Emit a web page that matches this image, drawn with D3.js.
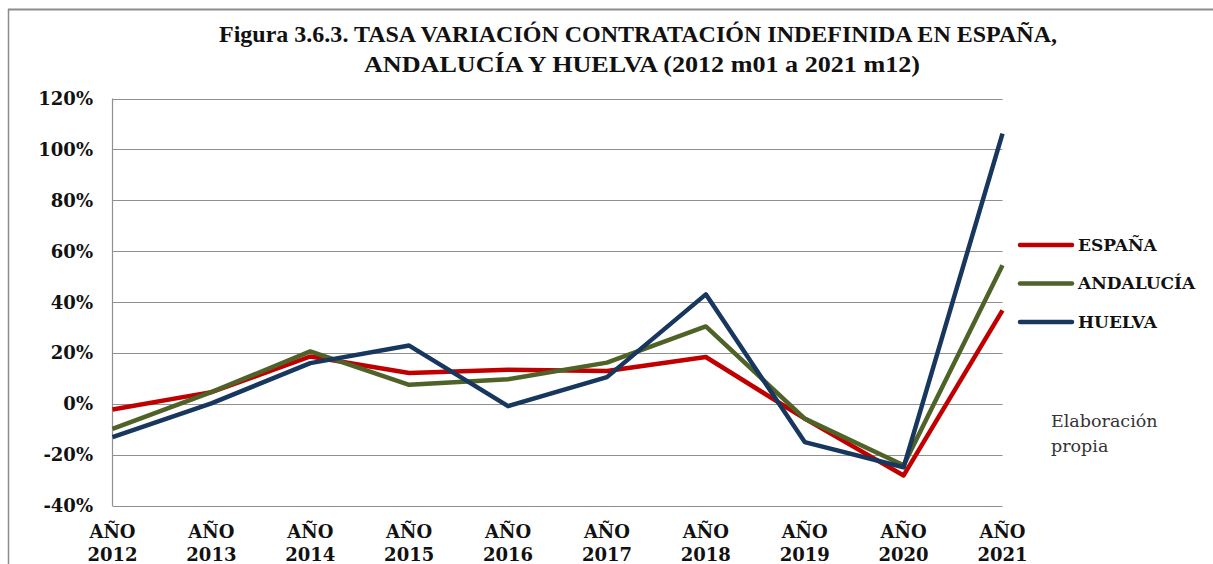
<!DOCTYPE html>
<html>
<head>
<meta charset="utf-8">
<script src="https://cdn.jsdelivr.net/npm/d3@7"></script>
<style>
  body { margin: 0; background: #fff; }
  svg { display: block; }
</style>
</head>
<body>
<div id="chart"></div>
<script>
const w = 1213, h = 564,
  m = {top: 98.5, right: 210.5, bottom: 58, left: 112.5};

// data
const years = ["2012", "2013", "2014", "2015", "2016", "2017", "2018", "2019", "2020", "2021"];
const espana    = [-2.1, 4.7, 18.7, 12.2, 13.5, 13.0, 18.5, -5.7, -28.0, 36.8];
const andalucia = [-9.7, 4.7, 20.7,  7.6,  9.8, 16.3, 30.5, -5.7, -24.0, 54.5];
const huelva    = [-13.0, 0.3, 16.1, 23.0, -0.8, 10.6, 43.1, -14.9, -24.8, 106.2];
const yTicks = [-40, -20, 0, 20, 40, 60, 80, 100, 120];

const series = [
  {name: "ESPAÑA", values: espana, color: "#c00000"},
  {name: "ANDALUCÍA", values: andalucia, color: "#4f6228"},
  {name: "HUELVA", values: huelva, color: "#17375e"}
];

const svg = d3.select("#chart").append("svg")
  .attr("width", w).attr("height", h);

// outer frame
svg.append("line").attr("x1", 8).attr("x2", w).attr("y1", 9.5).attr("y2", 9.5)
  .attr("stroke", "#8c8c8c").attr("stroke-width", 2);
svg.append("line").attr("x1", 8.5).attr("x2", 8.5).attr("y1", 9).attr("y2", h)
  .attr("stroke", "#8c8c8c").attr("stroke-width", 1.5);

// title
const title = svg.append("text")
  .attr("text-anchor", "middle")
  .style("font-family", "'Liberation Serif', serif")
  .style("font-weight", "bold")
  .style("font-size", "24px")
  .attr("fill", "#111");
title.append("tspan").attr("x", 638).attr("y", 42)
  .attr("textLength", 838).attr("lengthAdjust", "spacingAndGlyphs")
  .text("Figura 3.6.3. TASA VARIACIÓN CONTRATACIÓN INDEFINIDA EN ESPAÑA,");
title.append("tspan").attr("x", 642).attr("y", 72)
  .attr("textLength", 556).attr("lengthAdjust", "spacingAndGlyphs")
  .text("ANDALUCÍA Y HUELVA (2012 m01 a 2021 m12)");

const x = d3.scalePoint(years, [m.left, w - m.right]);
const y = d3.scaleLinear([-40, 120], [h - m.bottom, m.top]);

// gridlines
svg.append("g")
  .selectAll("line")
  .data(yTicks)
  .join("line")
  .attr("x1", m.left).attr("x2", w - m.right)
  .attr("y1", d => Math.round(y(d)) + 0.5).attr("y2", d => Math.round(y(d)) + 0.5)
  .attr("stroke", "#8f8f8f").attr("stroke-width", 1.2);

svg.append("line")
  .attr("x1", m.left).attr("x2", m.left)
  .attr("y1", y(120)).attr("y2", y(-40))
  .attr("stroke", "#8f8f8f").attr("stroke-width", 1.2);

// y labels
svg.append("g")
  .selectAll("text")
  .data(yTicks)
  .join("text")
  .attr("x", 93).attr("y", d => y(d))
  .attr("dy", "0.35em")
  .attr("text-anchor", "end")
  .style("font-family", "'DejaVu Serif', serif")
  .style("font-weight", "bold")
  .style("font-size", "18px")
  .attr("fill", "#111")
  .text(d => d + "%");

// x labels
const xl = svg.append("g")
  .selectAll("text")
  .data(years)
  .join("text")
  .attr("text-anchor", "middle")
  .style("font-family", "'DejaVu Serif', serif")
  .style("font-weight", "bold")
  .style("font-size", "18px")
  .attr("fill", "#111");
xl.append("tspan").attr("x", d => x(d)).attr("y", 538).text("AÑO");
xl.append("tspan").attr("x", d => x(d)).attr("y", 561).text(d => d);

// lines
const line = d3.line()
  .x((d, i) => x(years[i]))
  .y(d => y(d));

svg.append("g")
  .selectAll("path")
  .data(series)
  .join("path")
  .attr("d", d => line(d.values))
  .attr("fill", "none")
  .attr("stroke", d => d.color)
  .attr("stroke-width", 4.5)
  .attr("stroke-linejoin", "round");

// legend
const lg = svg.append("g")
  .selectAll("g")
  .data(series)
  .join("g")
  .attr("transform", (d, i) => `translate(1020,${245 + i * 38.5})`);
lg.append("line")
  .attr("x1", 0).attr("x2", 52)
  .attr("stroke", d => d.color).attr("stroke-width", 4.5)
  .attr("stroke-linecap", "round");
lg.append("text")
  .attr("x", 58).attr("dy", "0.35em")
  .style("font-family", "'DejaVu Serif', serif")
  .style("font-weight", "bold")
  .style("font-size", "17px")
  .attr("fill", "#111")
  .text(d => d.name);

// note
const note = svg.append("text")
  .style("font-family", "'DejaVu Serif', serif")
  .style("font-size", "17.5px")
  .attr("fill", "#333");
note.append("tspan").attr("x", 1051).attr("y", 427).text("Elaboración");
note.append("tspan").attr("x", 1051).attr("y", 452).text("propia");
</script>
</body>
</html>
